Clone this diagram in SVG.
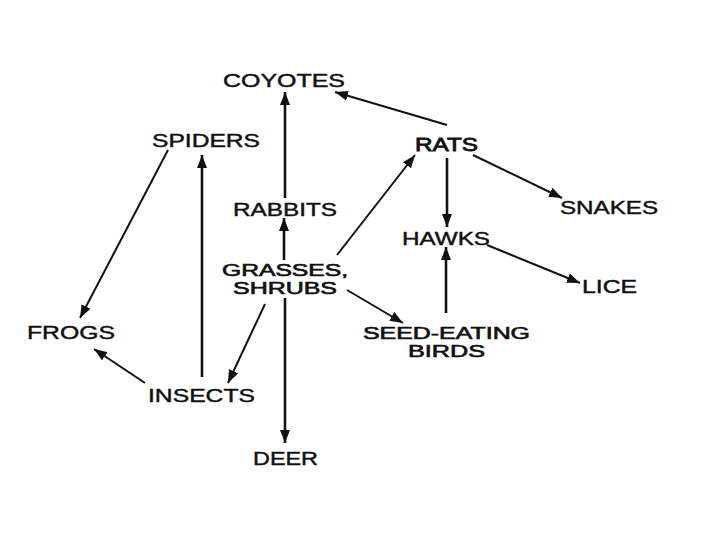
<svg xmlns="http://www.w3.org/2000/svg" width="720" height="540" viewBox="0 0 720 540">
<defs>
<style>
.n text{font-family:"Liberation Sans",Arial,sans-serif;font-size:19px;fill:#111;stroke:#111;stroke-width:0.45;}
.n text.s{font-size:16px;stroke-width:0.6;}
.c line{stroke:#111;stroke-width:2;marker-end:url(#ah);}
.c line.v{stroke-width:2.6;}
</style>
<marker id="ah" markerUnits="userSpaceOnUse" markerWidth="14" markerHeight="10" refX="13" refY="5" orient="auto">
<path d="M0,0 L13,5 L0,10 z" fill="#111"/>
</marker>
</defs>
<rect width="720" height="540" fill="#fff"/>
<g class="c" id="connectors">
<line class="v" x1="285" y1="198" x2="285" y2="92"/>
<line x1="447" y1="125" x2="335" y2="92"/>
<line x1="168" y1="150" x2="80" y2="318"/>
<line class="v" x1="202" y1="377" x2="202" y2="155"/>
<line x1="145" y1="383" x2="94" y2="349"/>
<line x1="265" y1="304" x2="228" y2="383"/>
<line class="v" x1="285" y1="298" x2="285" y2="443"/>
<line class="v" x1="284" y1="260" x2="284" y2="218"/>
<line x1="337" y1="255" x2="415" y2="155"/>
<line x1="347" y1="290" x2="403" y2="323"/>
<line class="v" x1="447" y1="158" x2="447" y2="227"/>
<line class="v" x1="446" y1="313" x2="446" y2="247"/>
<line x1="473" y1="155" x2="562" y2="198"/>
<line x1="487" y1="245" x2="580" y2="283"/>
</g>
<g class="n" id="coyotes"><text x="223" y="87" textLength="122" lengthAdjust="spacingAndGlyphs">COYOTES</text></g>
<g class="n" id="spiders"><text x="152" y="147" textLength="108" lengthAdjust="spacingAndGlyphs">SPIDERS</text></g>
<g class="n" id="rats"><text x="415" y="151" textLength="63" lengthAdjust="spacingAndGlyphs" style="stroke-width:0.8">RATS</text></g>
<g class="n" id="snakes"><text x="560" y="214" textLength="98" lengthAdjust="spacingAndGlyphs">SNAKES</text></g>
<g class="n" id="hawks"><text x="402" y="245" textLength="88" lengthAdjust="spacingAndGlyphs">HAWKS</text></g>
<g class="n" id="lice"><text x="582" y="293" textLength="55" lengthAdjust="spacingAndGlyphs">LICE</text></g>
<g class="n" id="rabbits"><text x="233" y="216" textLength="104" lengthAdjust="spacingAndGlyphs">RABBITS</text></g>
<g class="n" id="grasses"><text class="s" x="222" y="276" textLength="126" lengthAdjust="spacingAndGlyphs">GRASSES,</text><text class="s" x="233" y="294" textLength="104" lengthAdjust="spacingAndGlyphs">SHRUBS</text></g>
<g class="n" id="frogs"><text x="27" y="339" textLength="88" lengthAdjust="spacingAndGlyphs">FROGS</text></g>
<g class="n" id="insects"><text x="148" y="402" textLength="107" lengthAdjust="spacingAndGlyphs">INSECTS</text></g>
<g class="n" id="deer"><text x="253" y="465" textLength="65" lengthAdjust="spacingAndGlyphs">DEER</text></g>
<g class="n" id="seedbirds"><text class="s" x="363" y="339" textLength="167" lengthAdjust="spacingAndGlyphs">SEED-EATING</text><text class="s" x="408" y="357" textLength="77" lengthAdjust="spacingAndGlyphs">BIRDS</text></g>
</svg>
